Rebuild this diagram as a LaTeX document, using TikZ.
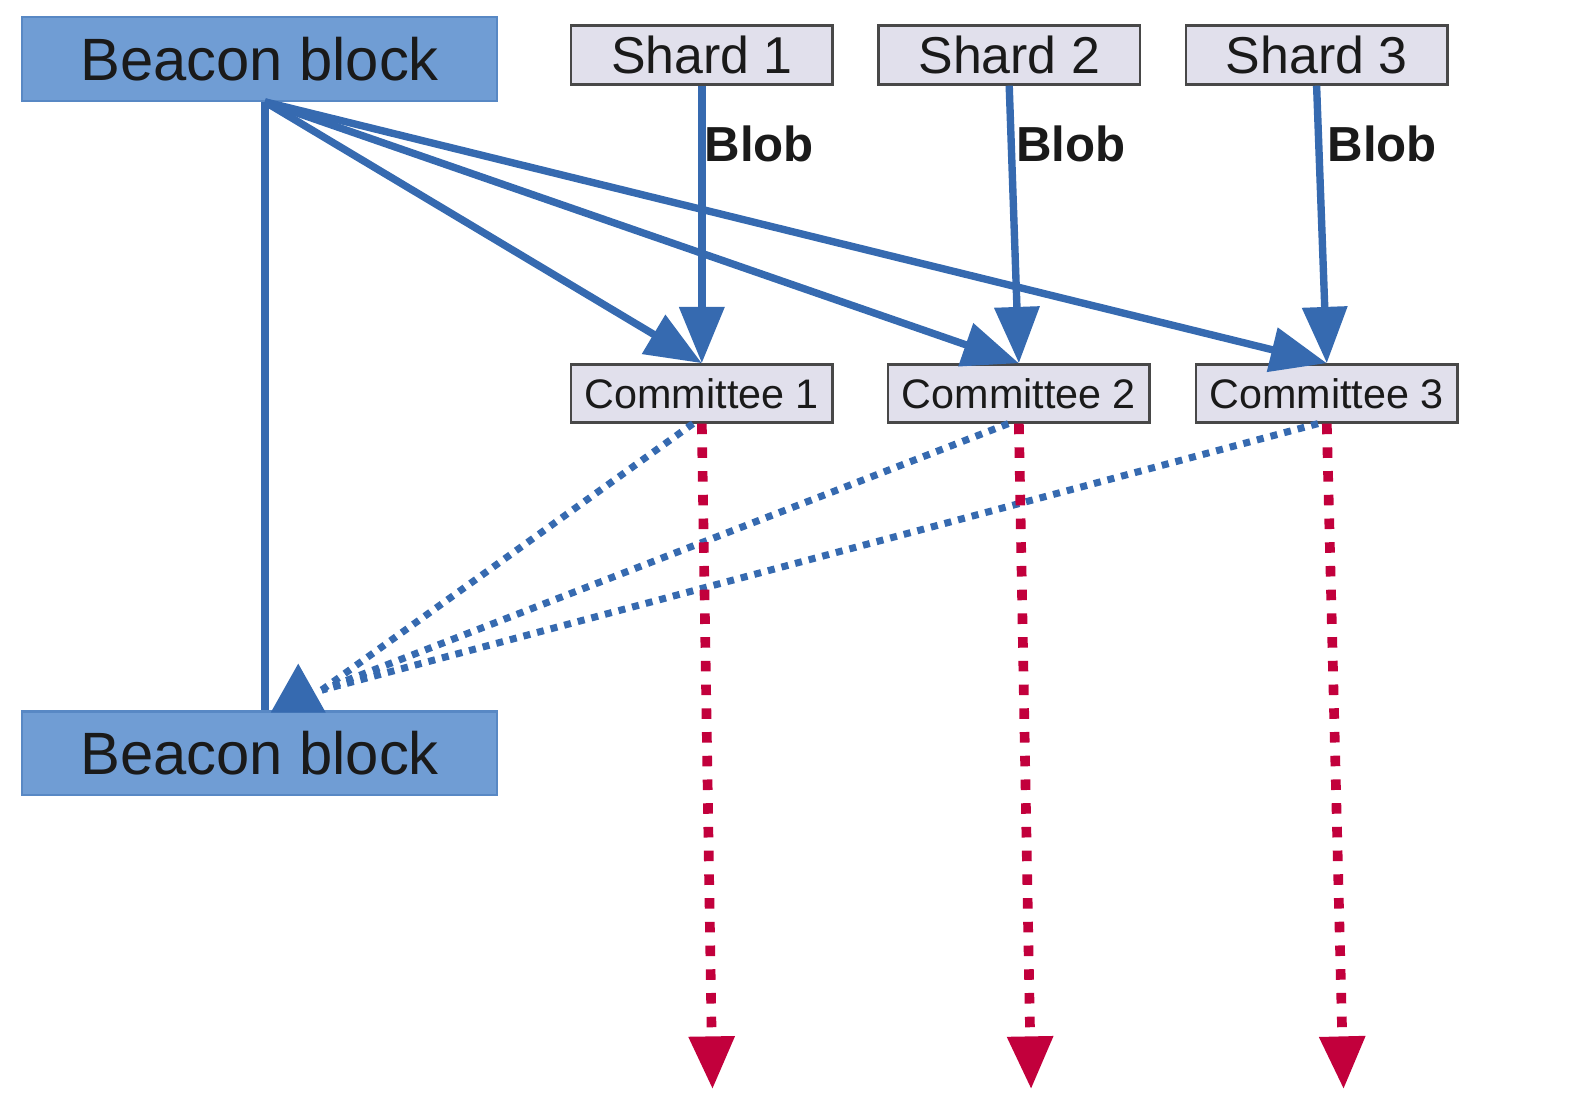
\documentclass[tikz,border=0pt]{standalone}
\usepackage{fontspec}
\setmainfont{Liberation Sans}
\usepackage{tikz}
\usetikzlibrary{arrows.meta, positioning, calc}
\definecolor{beaconfill}{RGB}{112,157,212}
\definecolor{beaconedge}{RGB}{88,136,196}
\definecolor{linkblue}{RGB}{54,106,176}
\definecolor{shardfill}{RGB}{225,224,236}
\definecolor{shardedge}{RGB}{72,72,72}
\definecolor{voterred}{RGB}{194,0,60}
\definecolor{inkblack}{RGB}{26,26,26}

\begin{document}
\begin{tikzpicture}[
          x=0.02036cm, y=-0.02036cm,
          beacon/.style={rectangle, draw=beaconedge, fill=beaconfill, line width=1.2pt,
            minimum width=9.49cm, minimum height=1.67cm, inner sep=0pt, text=inkblack,
            font=\fontsize{34}{40}\selectfont},
          shard/.style={rectangle, draw=shardedge, fill=shardfill, line width=1.4pt,
            minimum width=5.23cm, minimum height=1.18cm, inner sep=0pt, text=inkblack,
            font=\fontsize{29.5}{34}\selectfont},
          committee/.style={shard, minimum height=1.16cm,
            font=\fontsize{23.5}{27}\selectfont},
          bloblabel/.style={anchor=base west, inner sep=0pt, text=inkblack,
            font=\fontsize{28}{31}\selectfont\bfseries},
          link/.style={draw=linkblue, line width=4.2pt, -{Triangle[length=32pt, width=25pt]}, linkblue},
          vote/.style={draw=linkblue, line width=4pt, dash pattern=on 4pt off 4pt},
          crosslink/.style={draw=voterred, line width=5.5pt, dash pattern=on 6pt off 7.5pt,
            -{Triangle[length=30pt, width=25pt]}, voterred}
        ]
        \useasboundingbox (0,0) rectangle (1568,1100);

        \node [beacon] (bb1) at (255,58) {Beacon block};
        \node [beacon] (bb2) at (255,740) {Beacon block};

        \node [shard] (s1) at (689.5,54) {Shard 1};
        \node [shard] (s2) at (991.5,54) {Shard 2};
        \node [shard] (s3) at (1293.5,54) {Shard 3};

        \node [committee] (c1) at (689.5,386.5) {Committee 1};
        \node [committee] (c2) at (1001,386.5) {Committee 2};
        \node [committee] (c3) at (1303.5,386.5) {Committee 3};

        \node [bloblabel] (b1) at (692,159) {Blob};
        \node [bloblabel] (b2) at (998,159) {Blob};
        \node [bloblabel] (b3) at (1304,159) {Blob};

        \coordinate (dotend) at (316,678);
        \coordinate (r1) at (700,1070);
        \coordinate (r2) at (1013,1070);
        \coordinate (r3) at (1320,1070);

        \draw [draw=linkblue, line width=4.2pt] ([xshift=3pt]bb1.south) -- ([xshift=3pt]bb2.north);
        \foreach \c in {c1,c2,c3}
          \draw [link] ([xshift=3pt]bb1.south) -- (\c.north);
        \draw [link] (s1.south) -- (c1.north);
        \draw [link] (s2.south) -- (c2.north);
        \draw [link] (s3.south) -- (c3.north);

        \draw [vote] ([xshift=-5pt]c1.south) -- (dotend);
        \draw [vote] ([xshift=-6pt]c2.south) -- (dotend);
        \draw [vote] ([xshift=-5pt]c3.south) -- (dotend);
        \fill [linkblue] (266,700) -- (293,652) -- (320,700) -- cycle;

        \draw [crosslink] (c1.south) -- (r1);
        \draw [crosslink] (c2.south) -- (r2);
        \draw [crosslink] (c3.south) -- (r3);
        \end{tikzpicture}
\end{document}
